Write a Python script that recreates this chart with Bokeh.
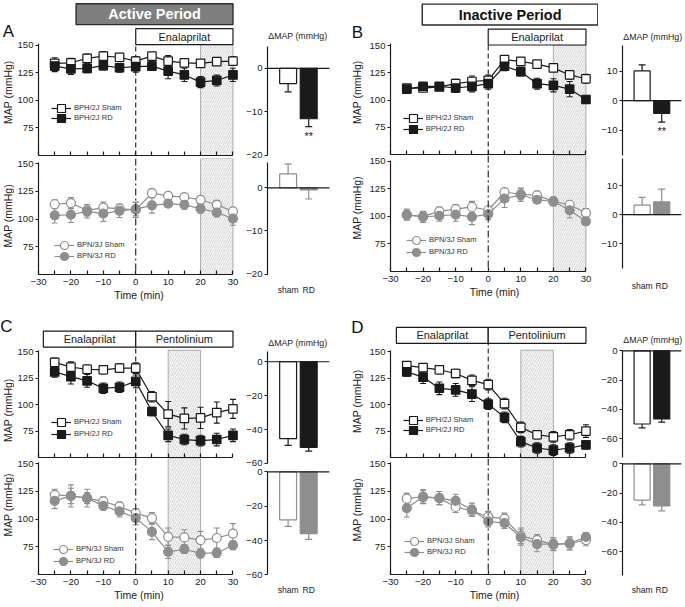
import math
from bokeh.plotting import figure
from bokeh.models import Range1d, FixedTicker, Legend, LegendItem, Span
from bokeh.layouts import row, column
from bokeh.embed import file_html
from bokeh.resources import INLINE
from bokeh.core.properties import value

S = 0.997
FONT = "Liberation Sans"
INK = "#1a1a1a"
GREY = "#8e8e8e"

# ---------------- data ----------------
time_min = [-25, -20, -15, -10, -5, 0, 5, 10, 15, 20, 25, 30]
x_ticks = [-30, -20, -10, 0, 10, 20, 30]
x_minor = [-25, -15, -5, 5, 15, 25]
map_ticks = [75, 100, 125, 150]

a_bph_sham = [133.5, 134.0, 138.0, 140.0, 139.0, 135.5, 140.0, 135.5, 134.0, 133.5, 135.0, 135.5]
a_bph_sham_err = [5, 4, 4, 4, 3, 4, 2, 5, 3, 3, 3, 4]
a_bph_rd = [131.0, 128.5, 129.0, 131.5, 129.5, 130.5, 131.0, 126.5, 123.0, 116.5, 118.0, 123.0]
a_bph_rd_err = [5, 5, 4, 4, 4, 5, 4, 7, 6, 5, 5, 6]
a_bpn_sham = [113.5, 114.5, 108.0, 110.5, 109.5, 108.5, 123.5, 121.0, 120.0, 117.5, 113.0, 107.0]
a_bpn_sham_err = [4, 5, 5, 5, 4, 7, 4, 3, 3, 3, 4, 3]
a_bpn_rd = [103.5, 104.0, 107.0, 105.0, 107.5, 109.0, 112.5, 114.0, 113.0, 109.5, 106.0, 100.5]
a_bpn_rd_err = [7, 7, 6, 7, 6, 6, 7, 3, 4, 4, 4, 6]

b_bph_sham = [111.0, 111.0, 112.0, 115.0, 117.0, 118.0, 137.0, 135.5, 133.0, 129.5, 123.0, 119.5]
b_bph_sham_err = [3, 3, 3, 4, 5, 5, 3, 3, 3, 3, 4, 4]
b_bph_rd = [110.0, 112.5, 112.5, 111.0, 112.5, 115.0, 131.0, 126.0, 115.0, 113.5, 110.0, 100.5]
b_bph_rd_err = [4, 3, 3, 4, 5, 5, 4, 4, 5, 6, 7, 3]
b_bpn_sham = [101.0, 100.0, 104.5, 106.5, 108.5, 105.5, 122.0, 120.0, 119.0, 113.5, 110.5, 103.0]
b_bpn_sham_err = [4, 4, 4, 4, 5, 3, 3, 5, 4, 3, 3, 4]
b_bpn_rd = [101.5, 99.5, 100.5, 101.5, 99.5, 102.0, 116.0, 119.5, 115.0, 113.5, 105.5, 95.5]
b_bpn_rd_err = [5, 5, 5, 6, 7, 5, 8, 6, 3, 4, 7, 3]

c_bph_sham = [140.0, 135.5, 133.5, 133.0, 134.5, 134.5, 107.5, 91.0, 87.0, 87.5, 92.5, 96.0]
c_bph_sham_err = [4, 5, 4, 4, 4, 5, 5, 12, 10, 10, 10, 9]
c_bph_rd = [131.0, 126.5, 122.5, 115.5, 116.5, 122.0, 93.5, 71.0, 67.0, 66.0, 67.0, 71.0]
c_bph_rd_err = [5, 7, 6, 5, 5, 6, 4, 6, 5, 5, 6, 6]
c_bpn_sham = [122.0, 121.0, 119.0, 116.0, 111.5, 105.5, 101.0, 84.0, 83.5, 81.0, 83.0, 87.0]
c_bpn_sham_err = [5, 7, 5, 4, 4, 4, 5, 8, 7, 8, 9, 9]
c_bpn_rd = [116.5, 121.0, 119.0, 112.0, 107.0, 101.0, 88.5, 70.5, 73.0, 69.0, 69.5, 76.5]
c_bpn_rd_err = [7, 10, 8, 4, 5, 6, 7, 6, 4, 4, 4, 4]

d_bph_sham = [137.0, 135.0, 133.0, 129.5, 123.0, 119.0, 101.0, 78.5, 71.5, 69.5, 71.5, 75.0]
d_bph_sham_err = [3, 4, 4, 4, 5, 5, 5, 5, 4, 5, 5, 6]
d_bph_rd = [131.0, 126.0, 115.5, 114.0, 110.0, 100.5, 88.0, 65.0, 59.0, 57.0, 59.0, 62.0]
d_bph_rd_err = [4, 6, 6, 6, 7, 5, 5, 5, 5, 5, 5, 4]
d_bpn_sham = [118.5, 120.5, 119.0, 111.0, 107.5, 102.0, 100.5, 85.0, 81.0, 77.0, 78.0, 81.0]
d_bpn_sham_err = [5, 6, 6, 5, 5, 5, 5, 7, 5, 5, 5, 5]
d_bpn_rd = [110.0, 120.0, 119.0, 116.5, 108.5, 98.0, 96.5, 83.5, 77.5, 77.5, 78.0, 84.0]
d_bpn_rd_err = [8, 6, 6, 6, 6, 5, 5, 7, 7, 6, 6, 4]

bar_groups = ["sham", "RD"]
a_bph_dmap = [-3.5, -11.6]
a_bph_dmap_err = [1.9, 1.8]
a_bpn_dmap = [3.2, -0.5]
a_bpn_dmap_err = [2.3, 2.1]
b_bph_dmap = [10.1, -4.3]
b_bph_dmap_err = [2.1, 3.0]
b_bpn_dmap = [3.3, 4.4]
b_bpn_dmap_err = [2.7, 4.4]
c_bph_dmap = [-45.3, -50.5]
c_bph_dmap_err = [4.0, 2.2]
c_bpn_dmap = [-28.0, -36.0]
c_bpn_dmap_err = [3.7, 3.3]
d_bph_dmap = [-50.0, -46.5]
d_bph_dmap_err = [2.7, 2.2]
d_bpn_dmap = [-24.7, -28.7]
d_bpn_dmap_err = [3.3, 3.4]
a_bph_sig = ["", "**"]
b_bph_sig = ["", "**"]

hatch_ab = (20, 30)
hatch_cd = (10, 20)


def fs(v):
    return "%.2fpx" % (v * S)


def base_fig(W, H, bl, br, bb, xr, yr):
    p = figure(width=W, height=H, x_range=Range1d(*xr), y_range=Range1d(*yr),
               output_backend="svg", toolbar_location=None,
               min_border_left=bl, min_border_right=br, min_border_top=0,
               min_border_bottom=bb)
    p.xgrid.visible = False
    p.ygrid.visible = False
    p.outline_line_color = None
    p.background_fill_color = "white"
    p.border_fill_color = "white"
    for ax in (p.xaxis[0], p.yaxis[0]):
        ax.axis_line_color = INK
        ax.axis_line_width = 1.2
        ax.major_tick_line_color = INK
        ax.major_tick_line_width = 1.2
        ax.minor_tick_line_color = INK
        ax.minor_tick_line_width = 1.2
        ax.major_label_text_font = FONT
        ax.major_label_text_font_size = fs(9.6)
        ax.major_label_text_color = "#222222"
        ax.minor_tick_in = 0
        ax.minor_tick_out = 0
    return p


def add_legend(p, label, renderers, vx, vy, gw, gh):
    lg = Legend(items=[LegendItem(label=label, renderers=renderers)], location=(vx, vy),
                glyph_width=gw, glyph_height=gh, label_height=gh,
                label_standoff=round(3 * S), padding=0, margin=0, spacing=0,
                border_line_color=None, background_fill_alpha=0,
                label_text_font=FONT, label_text_font_size=fs(7.6),
                label_text_color="#333333", label_text_baseline="middle")
    p.add_layout(lg)


def make_strip(c, W, H):
    href = H / S
    p = figure(width=W, height=H, x_range=Range1d(0, W / S), y_range=Range1d(href, 0),
               output_backend="svg", toolbar_location=None, x_axis_type=None,
               y_axis_type=None, min_border=0)
    p.xgrid.visible = False
    p.ygrid.visible = False
    p.outline_line_color = None
    p.background_fill_color = "white"
    p.border_fill_color = "white"
    lx, ly = c["letter_px"]
    p.text(x=[lx], y=[ly], text=[c["letter"]], text_align="center", text_baseline="middle",
           text_font=value(FONT), text_font_size=value(fs(17)), text_color="#111111")
    ys = [c["top_ylab_y"], c["bot_ylab_y"]]
    p.text(x=[c["ylab_x"]] * 2, y=ys, text=["MAP (mmHg)"] * 2, angle=math.pi / 2,
           text_align="center", text_baseline="middle", text_font=value(FONT),
           text_font_size=value(fs(10.5)), text_color="#222222")
    return p


def make_line(c, part, lw, H, bl, br):
    bb = round(c[part + "_bb"] * S)
    fh = H - bb
    pxu = c[part + "_pxu"]
    y_end = 50 + fh / (pxu * S)
    ft = c[part + "_ft"]
    fb = ft + fh / S
    fw = lw - bl - br
    x_end = -30 + fw / (c["pxmin"] * S)
    fl = c["ox"] + c["bl"]

    top = part == "top"
    p = base_fig(lw, H, bl, br, bb, (-30, x_end), (50, y_end))
    ya = p.yaxis[0]
    ya.ticker = FixedTicker(ticks=map_ticks)
    ya.bounds = (50, 151.5 if top else 151)
    ya.major_tick_out = round(3 * S)
    ya.major_tick_in = 0
    ya.major_label_standoff = round(2 * S)
    xa = p.xaxis[0]
    xa.bounds = (-30, 30)
    xa.major_tick_in = round(4 * S)
    xa.major_tick_out = 0
    xa.minor_tick_in = round(4 * S)
    xa.minor_tick_out = 0
    if top:
        xa.ticker = FixedTicker(ticks=[], minor_ticks=x_ticks + x_minor)
        xa.major_label_standoff = 0
    else:
        xa.ticker = FixedTicker(ticks=x_ticks, minor_ticks=x_minor)
        xa.major_label_standoff = round(4 * S)
        xa.axis_label = "Time (min)"
        xa.axis_label_standoff = round(2 * S)
        xa.axis_label_text_font = FONT
        xa.axis_label_text_font_style = "normal"
        xa.axis_label_text_font_size = fs(10.5)
        xa.axis_label_text_color = "#222222"

    # hatched window
    h0, h1 = c["hatch"]
    htop = min(c["box_bottom"], 151.5) if top else y_end
    p.quad(left=[h0], right=[h1], bottom=[50], top=[htop], fill_color="white",
           line_color="#9a9a9a", line_width=0.8, hatch_pattern="/",
           hatch_color="#a8a8a8", hatch_weight=0.6, hatch_scale=4.5)

    # drug start line
    if top:
        p.segment(x0=[0], y0=[50], x1=[0], y1=[c["box_bottom"]], line_color=INK,
                  line_width=1.1, line_dash="5 3")
    else:
        p.add_layout(Span(location=0, dimension="height", line_color=INK,
                          line_width=1.1, line_dash="7 3 2 3"))

    # series
    if top:
        sham, sham_e, rd, rd_e = c["top_series"]
        col, mk, rd_fill = INK, "square", INK
        names = ("BPH/2J Sham", "BPH/2J RD")
    else:
        sham, sham_e, rd, rd_e = c["bot_series"]
        col, mk, rd_fill = GREY, "circle", GREY
        names = ("BPN/3J Sham", "BPN/3J RD")
    for vals, errs in ((sham, sham_e), (rd, rd_e)):
        lo = [v - e for v, e in zip(vals, errs)]
        hi = [v + e for v, e in zip(vals, errs)]
        p.segment(x0=time_min, y0=lo, x1=time_min, y1=hi, line_color=col, line_width=1.1)
        p.scatter(x=time_min + time_min, y=lo + hi, marker="dash", size=6 * S,
                  line_color=col, line_width=1.1)
    l_sham = p.line(time_min, sham, line_color=col, line_width=1.2)
    l_rd = p.line(time_min, rd, line_color=col, line_width=1.2)
    msize = 8.5 * S if mk == "square" else 9 * S
    m_sham = p.scatter(time_min, sham, marker=mk, size=msize, fill_color="white",
                       line_color=col, line_width=1.2)
    m_rd = p.scatter(time_min, rd, marker=mk, size=msize, fill_color=rd_fill,
                     line_color=col, line_width=1.2)

    # legend
    gw, gh = round(20 * S), round(22 * S)
    mx, my1, my2 = c[part + "_leg"]
    for nm, rs, my in ((names[0], [l_sham, m_sham], my1), (names[1], [l_rd, m_rd], my2)):
        vx = (mx - fl) * S - gw / 2
        vy = (fb - my) * S - gh / 2
        add_legend(p, nm, rs, vx, vy, gw, gh)

    if top:
        bb0 = c["box_bottom"]
        bt0 = bb0 + 16 / pxu
        for lbl, x0, x1 in c["drugs"]:
            p.quad(left=[x0], right=[x1], bottom=[bb0], top=[bt0], fill_color="white",
                   line_color=INK, line_width=1.2)
            p.text(x=[(x0 + x1) / 2], y=[(bb0 + bt0) / 2], text=[lbl], text_align="center",
                   text_baseline="middle", text_font=value(FONT),
                   text_font_size=value(fs(11)), text_color="#222222")
        if c["period"] is not None:
            ptxt, px0, px1, pfill, ptc = c["period"]
            pb = bt0 + 4 / pxu
            pt = pb + 21 / pxu
            p.quad(left=[px0], right=[px1], bottom=[pb], top=[pt], fill_color=pfill,
                   line_color="#2a2a2a", line_width=1.4)
            p.text(x=[(px0 + px1) / 2], y=[(pb + pt) / 2], text=[ptxt], text_align="center",
                   text_baseline="middle", text_font=value(FONT), text_font_style="bold",
                   text_font_size=value(fs(14.5)), text_color=ptc)
    return p


def make_bar(c, part, bw, H, bl, br):
    bb = round(c["bar_" + part + "_bb"] * S)
    fh = H - bb
    fw = bw - bl - br
    pxu = c["bar_" + part + "_pxu"]
    y0 = c["bar_" + part + "_start"]
    y_end = y0 + fh / (pxu * S)
    x_end = fw / (c["bar_pxcat"] * S)
    ft = c["bar_" + part + "_ft"]
    top = part == "top"

    def yd(yr):
        return y_end - (yr - ft) / pxu

    p = base_fig(bw, H, bl, br, bb, (0, x_end), (y0, y_end))
    ya = p.yaxis[0]
    ya.ticker = FixedTicker(ticks=c["bar_ticks"])
    ya.bounds = c["bar_" + part + "_bounds"]
    ya.major_tick_out = round(3 * S)
    ya.major_tick_in = 0
    ya.major_label_standoff = round(2 * S)
    xa = p.xaxis[0]
    if top:
        xa.visible = False
    else:
        xa.ticker = FixedTicker(ticks=[1, 2])
        xa.major_label_overrides = {1: bar_groups[0], 2: bar_groups[1]}
        xa.axis_line_color = None
        xa.major_tick_line_color = None
        xa.major_label_standoff = round(3 * S)
        xa.major_label_text_font_size = fs(8.6)

    if top:
        vals, errs = c["bar_top_vals"]
        edge = [INK, INK]
        fill = ["white", INK]
    else:
        vals, errs = c["bar_bot_vals"]
        edge = [GREY, GREY]
        fill = ["white", GREY]
    xs = [1, 2]
    ends = [v + (e if v >= 0 else -e) for v, e in zip(vals, errs)]
    p.segment(x0=xs, y0=vals, x1=xs, y1=ends, line_color=edge, line_width=1.2)
    p.scatter(x=xs, y=ends, marker="dash", size=7 * S, line_color=edge, line_width=1.2)
    p.vbar(x=xs, top=vals, bottom=0, width=0.82, fill_color=fill, line_color=edge,
           line_width=1.2)
    p.segment(x0=[0], y0=[0], x1=[c["bar_zero_end"]], y1=[0], line_color=INK, line_width=1.2)
    if top and c.get("sig") is not None:
        sx, sy, st = [], [], []
        for i, s in enumerate(c["sig"]):
            if s:
                sx.append(xs[i])
                sy.append(ends[i] - 3 / pxu)
                st.append(s)
        p.text(x=sx, y=sy, text=st, text_align="center", text_baseline="top",
               text_font=value(FONT), text_font_size=value(fs(11)), text_color="#222222")
    if top:
        p.text(x=[0.04], y=[yd(c["bar_title_y"])], text=["\u0394MAP (mmHg)"],
               text_align="left", text_baseline="middle", text_font=value(FONT),
               text_font_size=value(fs(8.8)), text_color="#222222")
    return p


def make_panel(c):
    tot_w = round((c["strip"] + c["line_w"] + c["bar_w"]) * S)
    sw = round(c["strip"] * S)
    lw = round(c["line_w"] * S)
    bw = tot_w - sw - lw
    tot_h = round((c["top_h"] + c["bot_h"]) * S)
    th = round(c["top_h"] * S)
    bh = tot_h - th
    bl, br = round((c["bl"] - c["strip"]) * S), round(c["br"] * S)
    st = make_strip(c, sw, tot_h)
    lt = make_line(c, "top", lw, th, bl, br)
    lb = make_line(c, "bot", lw, bh, bl, br)
    bth = round(c["bar_top_h"] * S)
    bbh = tot_h - bth
    bbl, bbr = round(c["bar_bl"] * S), round(c["bar_br"] * S)
    bt = make_bar(c, "top", bw, bth, bbl, bbr)
    bb = make_bar(c, "bot", bw, bbh, bbl, bbr)
    return row(st, column(lt, lb, spacing=0), column(bt, bb, spacing=0), spacing=0)


PA = dict(letter="A", letter_px=(8, 31), ox=0, strip=14, line_w=228, bar_w=98, bl=37, br=2,
          pxmin=3.267,
          top_h=158, top_bb=3, top_pxu=1.107, top_ft=0,
          bot_h=147, bot_bb=30, bot_pxu=1.11, bot_ft=158,
          box_bottom=150.5, drugs=[("Enalaprilat", 0, 30)],
          period=("Active Period", -18.4, 30, "#7f7f7f", "white"), hatch=hatch_ab,
          ylab_x=8.5, top_ylab_y=92, bot_ylab_y=216,
          top_leg=(60, 108, 118), bot_leg=(63, 245, 256),
          top_series=(a_bph_sham, a_bph_sham_err, a_bph_rd, a_bph_rd_err),
          bot_series=(a_bpn_sham, a_bpn_sham_err, a_bpn_rd, a_bpn_rd_err),
          bar_bl=26, bar_br=2, bar_ticks=[-20, -10, 0], bar_pxcat=20.67, bar_zero_end=3.0,
          bar_top_h=159, bar_top_bb=4, bar_top_pxu=4.36, bar_top_start=-20.05,
          bar_top_bounds=(-20, 5), bar_top_ft=0,
          bar_bot_bb=29, bar_bot_pxu=4.33, bar_bot_start=-20.32,
          bar_bot_bounds=(-20, 5.8), bar_bot_ft=159,
          bar_top_vals=(a_bph_dmap, a_bph_dmap_err), bar_bot_vals=(a_bpn_dmap, a_bpn_dmap_err),
          sig=a_bph_sig, bar_title_y=36)

PB = dict(letter="B", letter_px=(18, 32), ox=340, strip=27, line_w=233, bar_w=85, bl=50, br=0,
          pxmin=3.283,
          top_h=155, top_bb=1, top_pxu=1.093, top_ft=0,
          bot_h=150, bot_bb=33, bot_pxu=1.107, bot_ft=155,
          box_bottom=150.5, drugs=[("Enalaprilat", 0, 30)],
          period=("Inactive Period", -20.25, 33.66, "white", "#111111"), hatch=hatch_ab,
          ylab_x=18.5, top_ylab_y=92, bot_ylab_y=208,
          top_leg=(412.7, 118, 129), bot_leg=(416, 240, 252),
          top_series=(b_bph_sham, b_bph_sham_err, b_bph_rd, b_bph_rd_err),
          bot_series=(b_bpn_sham, b_bpn_sham_err, b_bpn_rd, b_bpn_rd_err),
          bar_bl=22, bar_br=1, bar_ticks=[-10, 0, 10], bar_pxcat=20.33, bar_zero_end=3.0,
          bar_top_h=157, bar_top_bb=2, bar_top_pxu=2.95, bar_top_start=-18.64,
          bar_top_bounds=(-18.6, 18.6), bar_top_ft=0,
          bar_bot_bb=33, bar_bot_pxu=2.9, bar_bot_start=-19.66,
          bar_bot_bounds=(-18.6, 19.3), bar_bot_ft=157,
          bar_top_vals=(b_bph_dmap, b_bph_dmap_err), bar_bot_vals=(b_bpn_dmap, b_bpn_dmap_err),
          sig=b_bph_sig, bar_title_y=37)

PC = dict(letter="C", letter_px=(6, 22), ox=0, strip=14, line_w=228, bar_w=98, bl=37, br=2,
          pxmin=3.267,
          top_h=154, top_bb=1, top_pxu=1.06, top_ft=305,
          bot_h=148, bot_bb=31, bot_pxu=1.11, bot_ft=459,
          box_bottom=154.5, drugs=[("Enalaprilat", -28.5, 0), ("Pentolinium", 0, 30)],
          period=None, hatch=hatch_cd,
          ylab_x=8.5, top_ylab_y=106, bot_ylab_y=201,
          top_leg=(60, 423, 435), bot_leg=(62, 550, 562),
          top_series=(c_bph_sham, c_bph_sham_err, c_bph_rd, c_bph_rd_err),
          bot_series=(c_bpn_sham, c_bpn_sham_err, c_bpn_rd, c_bpn_rd_err),
          bar_bl=26, bar_br=2, bar_ticks=[-60, -40, -20, 0], bar_pxcat=20.67, bar_zero_end=3.0,
          bar_top_h=163, bar_top_bb=2, bar_top_pxu=1.7, bar_top_start=-61.2,
          bar_top_bounds=(-60, 6), bar_top_ft=305,
          bar_bot_bb=30, bar_bot_pxu=1.725, bar_bot_start=-60.3,
          bar_bot_bounds=(-60, 0), bar_bot_ft=468,
          bar_top_vals=(c_bph_dmap, c_bph_dmap_err), bar_bot_vals=(c_bpn_dmap, c_bpn_dmap_err),
          sig=None, bar_title_y=344)

PD = dict(letter="D", letter_px=(18, 23), ox=340, strip=27, line_w=233, bar_w=85, bl=50, br=0,
          pxmin=3.283,
          top_h=154, top_bb=1, top_pxu=1.06, top_ft=305,
          bot_h=148, bot_bb=31, bot_pxu=1.11, bot_ft=459,
          box_bottom=158, drugs=[("Enalaprilat", -28.2, 0), ("Pentolinium", 0, 30)],
          period=None, hatch=hatch_cd,
          ylab_x=18.5, top_ylab_y=97, bot_ylab_y=206,
          top_leg=(412.7, 421, 431), bot_leg=(414, 542, 553),
          top_series=(d_bph_sham, d_bph_sham_err, d_bph_rd, d_bph_rd_err),
          bot_series=(d_bpn_sham, d_bpn_sham_err, d_bpn_rd, d_bpn_rd_err),
          bar_bl=22, bar_br=1, bar_ticks=[-60, -40, -20, 0], bar_pxcat=20.33, bar_zero_end=3.0,
          bar_top_h=155, bar_top_bb=2, bar_top_pxu=1.467, bar_top_start=-72.9,
          bar_top_bounds=(-72.9, 0), bar_top_ft=305,
          bar_bot_bb=30, bar_bot_pxu=1.467, bar_bot_start=-76.3,
          bar_bot_bounds=(-76.3, 0), bar_bot_ft=460,
          bar_top_vals=(d_bph_dmap, d_bph_dmap_err), bar_bot_vals=(d_bpn_dmap, d_bpn_dmap_err),
          sig=None, bar_title_y=341)

layout = column(row(make_panel(PA), make_panel(PB), spacing=0),
                row(make_panel(PC), make_panel(PD), spacing=0), spacing=0)

open("out.html", "w").write(file_html(layout, INLINE))
